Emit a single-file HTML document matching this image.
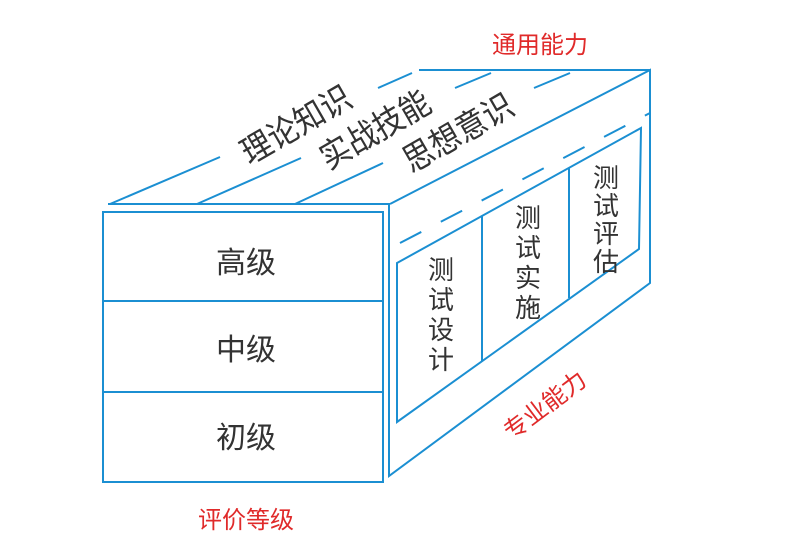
<!DOCTYPE html>
<html><head><meta charset="utf-8"><style>
body{margin:0;background:#fff;width:800px;height:551px;overflow:hidden}
svg{display:block}
text{font-family:"Liberation Sans","Noto Sans CJK SC",sans-serif}
</style></head><body>
<svg width="800" height="551" viewBox="0 0 800 551">
<g fill="none" stroke="#1b8fd2" stroke-width="2">
<rect x="103" y="212" width="280" height="270"/>
<line x1="103" y1="301" x2="383" y2="301"/>
<line x1="103" y1="392" x2="383" y2="392"/>
<line x1="108" y1="204" x2="390" y2="204"/>
<polyline points="390,204 650,70 650,283 389,476 389,204"/>
<line x1="419" y1="70" x2="650" y2="70"/>
<line x1="110" y1="204" x2="220" y2="157"/>
<line x1="378" y1="88" x2="412" y2="73"/>
<line x1="197" y1="204" x2="301" y2="158"/>
<line x1="455" y1="88" x2="491" y2="73"/>
<line x1="295" y1="204" x2="383" y2="163"/>
<line x1="534" y1="88" x2="570" y2="73"/>
<line x1="400" y1="243" x2="650" y2="113" stroke-dasharray="24,22"/>
<polygon points="397,263 641,128 639,249 397,422"/>
<line x1="482" y1="216" x2="482" y2="361"/>
<line x1="569" y1="168" x2="569" y2="298"/>
</g>
<g fill="#333" font-size="32">
<text transform="translate(302,135) rotate(-30) scale(0.95,1.05)" text-anchor="middle">理论知识</text>
<text transform="translate(381,140) rotate(-30) scale(0.95,1.05)" text-anchor="middle">实战技能</text>
<text transform="translate(464,143) rotate(-30) scale(0.95,1.05)" text-anchor="middle">思想意识</text>
</g>
<g fill="#333" font-size="30" text-anchor="middle">
<text x="246" y="273">高级</text>
<text x="246" y="360">中级</text>
<text x="246" y="448">初级</text>
</g>
<g fill="#333" font-size="26" text-anchor="middle">
<text x="441" y="279">测</text><text x="441" y="309">试</text><text x="441" y="339">设</text><text x="441" y="369">计</text>
<text x="528" y="227">测</text><text x="528" y="257">试</text><text x="528" y="287">实</text><text x="528" y="317">施</text>
<text x="606" y="187">测</text><text x="606" y="215">试</text><text x="606" y="243">评</text><text x="606" y="271">估</text>
</g>
<g fill="#e02a2a" font-size="24" text-anchor="middle">
<text x="540" y="53">通用能力</text>
<text x="246" y="528">评价等级</text>
<text transform="translate(550,412) rotate(-37)">专业能力</text>
</g>
</svg>
</body></html>
